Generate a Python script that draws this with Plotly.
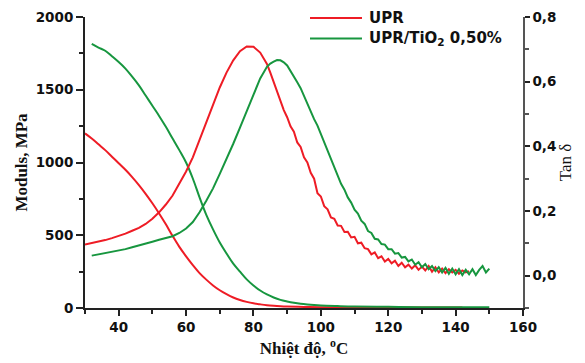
import plotly.graph_objects as go

# ---- data ----
# Storage modulus, MPa
t_mod_upr = list(range(30, 92, 2)) + [95, 100, 110, 120, 130, 142]
mod_upr = [1200, 1165, 1125, 1085, 1040, 995, 950, 900, 845, 785, 720, 650, 575, 495,
           420, 355, 295, 240, 195, 155, 122, 95, 72, 55, 42, 32, 25, 19, 15, 12, 10,
           7, 5, 4, 3, 3, 3]

t_mod_tio2 = list(range(32, 102, 2)) + [105, 110, 120, 130, 140, 150]
mod_tio2 = [1815, 1790, 1768, 1730, 1690, 1645, 1590, 1530, 1460, 1390, 1320, 1245,
            1165, 1085, 1000, 890, 760, 640, 540, 450, 375, 305, 250, 197, 155, 120,
            93, 72, 56, 45, 36, 29, 24, 20, 17, 13, 10, 8, 6, 5, 5]

# Tan delta
t_tan_upr = list(range(30, 84, 2)) + list(range(84, 145))
tan_upr = [0.096, 0.100, 0.105, 0.110, 0.116, 0.122, 0.130, 0.139, 0.148, 0.160,
           0.176, 0.196, 0.220, 0.248, 0.283, 0.322, 0.366, 0.418, 0.472, 0.528,
           0.582, 0.628, 0.666, 0.694, 0.709, 0.708, 0.690,
           0.655, 0.628, 0.600, 0.566, 0.540, 0.512, 0.490, 0.462, 0.445, 0.412,
           0.398, 0.366, 0.350, 0.318, 0.300, 0.255, 0.245, 0.215, 0.205, 0.180,
           0.176, 0.155, 0.154, 0.135, 0.136, 0.118, 0.120, 0.100, 0.102, 0.085,
           0.082, 0.066, 0.072, 0.054, 0.060, 0.044, 0.052, 0.038, 0.046, 0.030,
           0.040, 0.026, 0.034, 0.022, 0.032, 0.018, 0.028, 0.016, 0.030, 0.012,
           0.026, 0.010, 0.022, 0.008, 0.020, 0.010, 0.018, 0.006, 0.016, 0.010,
           0.014]

t_tan_tio2 = list(range(32, 84, 2)) + list(range(84, 151))
tan_tio2 = [0.062, 0.066, 0.069, 0.073, 0.077, 0.082, 0.088, 0.093, 0.099, 0.105,
            0.111, 0.116, 0.122, 0.132, 0.146, 0.166, 0.196, 0.232, 0.270, 0.315,
            0.360, 0.408, 0.458, 0.510, 0.562, 0.610,
            0.646, 0.656, 0.662, 0.667, 0.666, 0.660, 0.650, 0.634, 0.618, 0.598,
            0.580, 0.555, 0.530, 0.508, 0.484, 0.464, 0.438, 0.414, 0.384, 0.358,
            0.330, 0.308, 0.284, 0.266, 0.242, 0.226, 0.204, 0.192, 0.170, 0.160,
            0.138, 0.132, 0.114, 0.112, 0.098, 0.096, 0.082, 0.082, 0.068, 0.070,
            0.056, 0.058, 0.044, 0.050, 0.034, 0.042, 0.026, 0.036, 0.020, 0.030,
            0.014, 0.026, 0.010, 0.024, 0.006, 0.022, 0.004, 0.020, 0.002, 0.018,
            0.004, 0.020, 0.002, 0.018, 0.030, 0.010, 0.022]

x_ticks = [40, 60, 80, 100, 120, 140, 160]
y_ticks = [0, 500, 1000, 1500, 2000]
y2_ticks = [0.0, 0.2, 0.4, 0.6, 0.8]
y2_labels = ["0,0", "0,2", "0,4", "0,6", "0,8"]
series_names = ["UPR", "UPR/TiO<sub>2</sub> 0,50%"]

RED = "#ee1c25"
GREEN = "#17963f"
AX = "#222222"

fig = go.Figure()
fig.add_trace(go.Scatter(x=t_mod_upr, y=mod_upr, mode="lines", name=series_names[0],
                         line=dict(color=RED, width=2, shape="spline"), showlegend=False))
fig.add_trace(go.Scatter(x=t_mod_tio2, y=mod_tio2, mode="lines", name=series_names[1],
                         line=dict(color=GREEN, width=2, shape="spline"), showlegend=False))
fig.add_trace(go.Scatter(x=t_tan_upr, y=tan_upr, mode="lines", name=series_names[0],
                         line=dict(color=RED, width=2), yaxis="y2", showlegend=False))
fig.add_trace(go.Scatter(x=t_tan_tio2, y=tan_tio2, mode="lines", name=series_names[1],
                         line=dict(color=GREEN, width=2), yaxis="y2", showlegend=False))

tickfont = dict(family="DejaVu Sans", size=13.5, color="#111", weight="bold")
titlefont = dict(family="Liberation Serif", size=17, color="#111", weight="bold")

# the page body adds an 8px offset, so the figure is 8px smaller than the window
fig.update_layout(
    width=577, height=355,
    margin=dict(l=77, r=62, t=9, b=55, autoexpand=False),
    paper_bgcolor="white", plot_bgcolor="white",
    xaxis=dict(range=[30, 160], tickvals=x_ticks, ticks="outside", ticklen=6,
               tickwidth=1.5, tickcolor=AX, showline=True, linewidth=2, linecolor=AX,
               showgrid=False, zeroline=False, tickfont=tickfont, automargin=False,
               minor=dict(tick0=30, dtick=10, ticks="outside", ticklen=4,
                          tickwidth=1.5, tickcolor=AX),
               title=dict(text="Nhiệt độ, <sup>o</sup>C", font=titlefont, standoff=8)),
    yaxis=dict(range=[0, 2000], tickvals=y_ticks, ticks="outside", ticklen=7,
               tickwidth=1.5, tickcolor=AX, showline=True, linewidth=2, linecolor=AX,
               showgrid=False, zeroline=False, tickfont=tickfont, automargin=False,
               minor=dict(tick0=0, dtick=250, ticks="outside", ticklen=4,
                          tickwidth=1.5, tickcolor=AX),
               title=dict(text="Moduls, MPa", font=titlefont, standoff=4)),
    yaxis2=dict(range=[-0.1, 0.8], overlaying="y", side="right", tickvals=y2_ticks,
                ticktext=y2_labels, ticks="outside", ticklen=5, tickwidth=1.5,
                tickcolor=AX, showline=True, linewidth=1.5, linecolor="#555",
                showgrid=False, zeroline=False, tickfont=tickfont, automargin=False,
                minor=dict(tick0=0, dtick=0.1, ticks="outside", ticklen=4,
                           tickwidth=1.5, tickcolor="#555"),
                title=dict(text="Tan δ", font=dict(family="Liberation Serif", size=17,
                                                   color="#111"), standoff=2)),
)

# manual legend (line samples + labels)
legend_rows = [(RED, series_names[0], 0.9966), (GREEN, series_names[1], 0.926)]
for color, label, yy in legend_rows:
    fig.add_shape(type="line", xref="paper", yref="paper", x0=0.5137, x1=0.6324,
                  y0=yy, y1=yy, line=dict(color=color, width=2))
    fig.add_annotation(xref="paper", yref="paper", x=0.646, y=yy, xanchor="left",
                       yanchor="middle", text=label, showarrow=False, borderpad=0,
                       font=dict(family="DejaVu Sans", size=15, color="#111",
                                 weight="bold"))

fig.write_html("out.html")
